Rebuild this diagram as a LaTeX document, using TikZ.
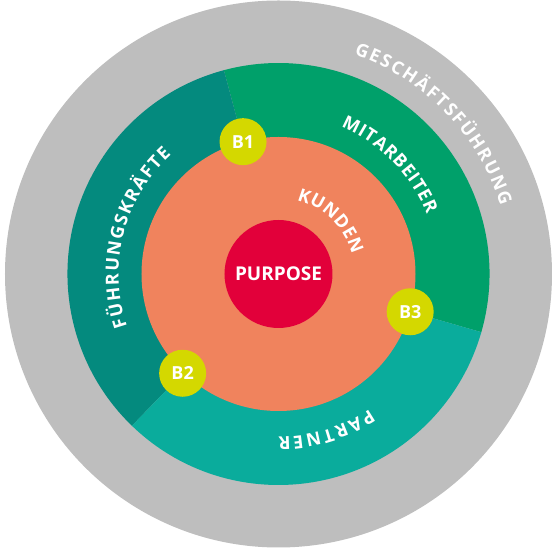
\documentclass[tikz,border=0pt]{standalone}
\usepackage{fontspec}
\setmainfont{Open Sans}
\newfontfamily\ringfont{Open Sans}[UprightFont={* Bold}]
\usetikzlibrary{decorations.text}

\definecolor{ringgray}{RGB}{190,190,190}
\definecolor{leadteal}{RGB}{4,138,126}
\definecolor{staffgreen}{RGB}{0,160,106}
\definecolor{partnerteal}{RGB}{10,172,156}
\definecolor{clientorange}{RGB}{240,131,93}
\definecolor{purposered}{RGB}{226,0,58}
\definecolor{bridgelime}{RGB}{212,216,0}

\tikzset{
  arclabel/.style={decorate, decoration={text along path,
      text={|\ringfont\fontsize{18}{18}\selectfont|#1},
      text color=white, text align=fit to path}},
  bubble/.style={circle, fill=bridgelime, text=white, minimum size=47pt,
      inner sep=0pt, font=\bfseries\fontsize{18}{18}\selectfont},
  purposedisc/.style={circle, fill=purposered, text=white, minimum size=108pt,
      inner sep=0pt, font=\bfseries\fontsize{19}{19}\selectfont}
}

\begin{document}
\begin{tikzpicture}[x=1pt,y=1pt]
    \useasboundingbox (-278.5,-274) rectangle (273.5,274);

    % rings
    \fill[ringgray] (0,0) circle (273.5);
    \fill[staffgreen] (0,0) -- (-16:211) arc[start angle=-16, end angle=105, radius=211] -- cycle;
    \fill[leadteal] (0,0) -- (105:211) arc[start angle=105, end angle=226, radius=211] -- cycle;
    \fill[partnerteal] (0,0) -- (226:211) arc[start angle=226, end angle=344, radius=211] -- cycle;
    \fill[clientorange] (0,0) circle (137);

    \node[purposedisc] (purpose) at (0,0) {PURPOSE};

    % labels along the rings
    \path[arclabel=GESCHÄFTSFÜHRUNG] (71:232) arc[start angle=71, end angle=17, radius=232];
    \path[arclabel=MITARBEITER] (67:160) arc[start angle=67, end angle=22, radius=160];
    \path[arclabel=FÜHRUNGSKRÄFTE] (199:160) arc[start angle=199, end angle=132, radius=160];
    \path[arclabel=PARTNER] (-56:163) arc[start angle=-56, end angle=-90, radius=163];
    \path[arclabel=KUNDEN] (76:76) arc[start angle=76, end angle=15, radius=76];

    \node[bubble] (b1) at (105:137) {B1};
    \node[bubble] (b2) at (226:138) {B2};
    \node[bubble] (b3) at (-16:137) {B3};
\end{tikzpicture}
\end{document}
